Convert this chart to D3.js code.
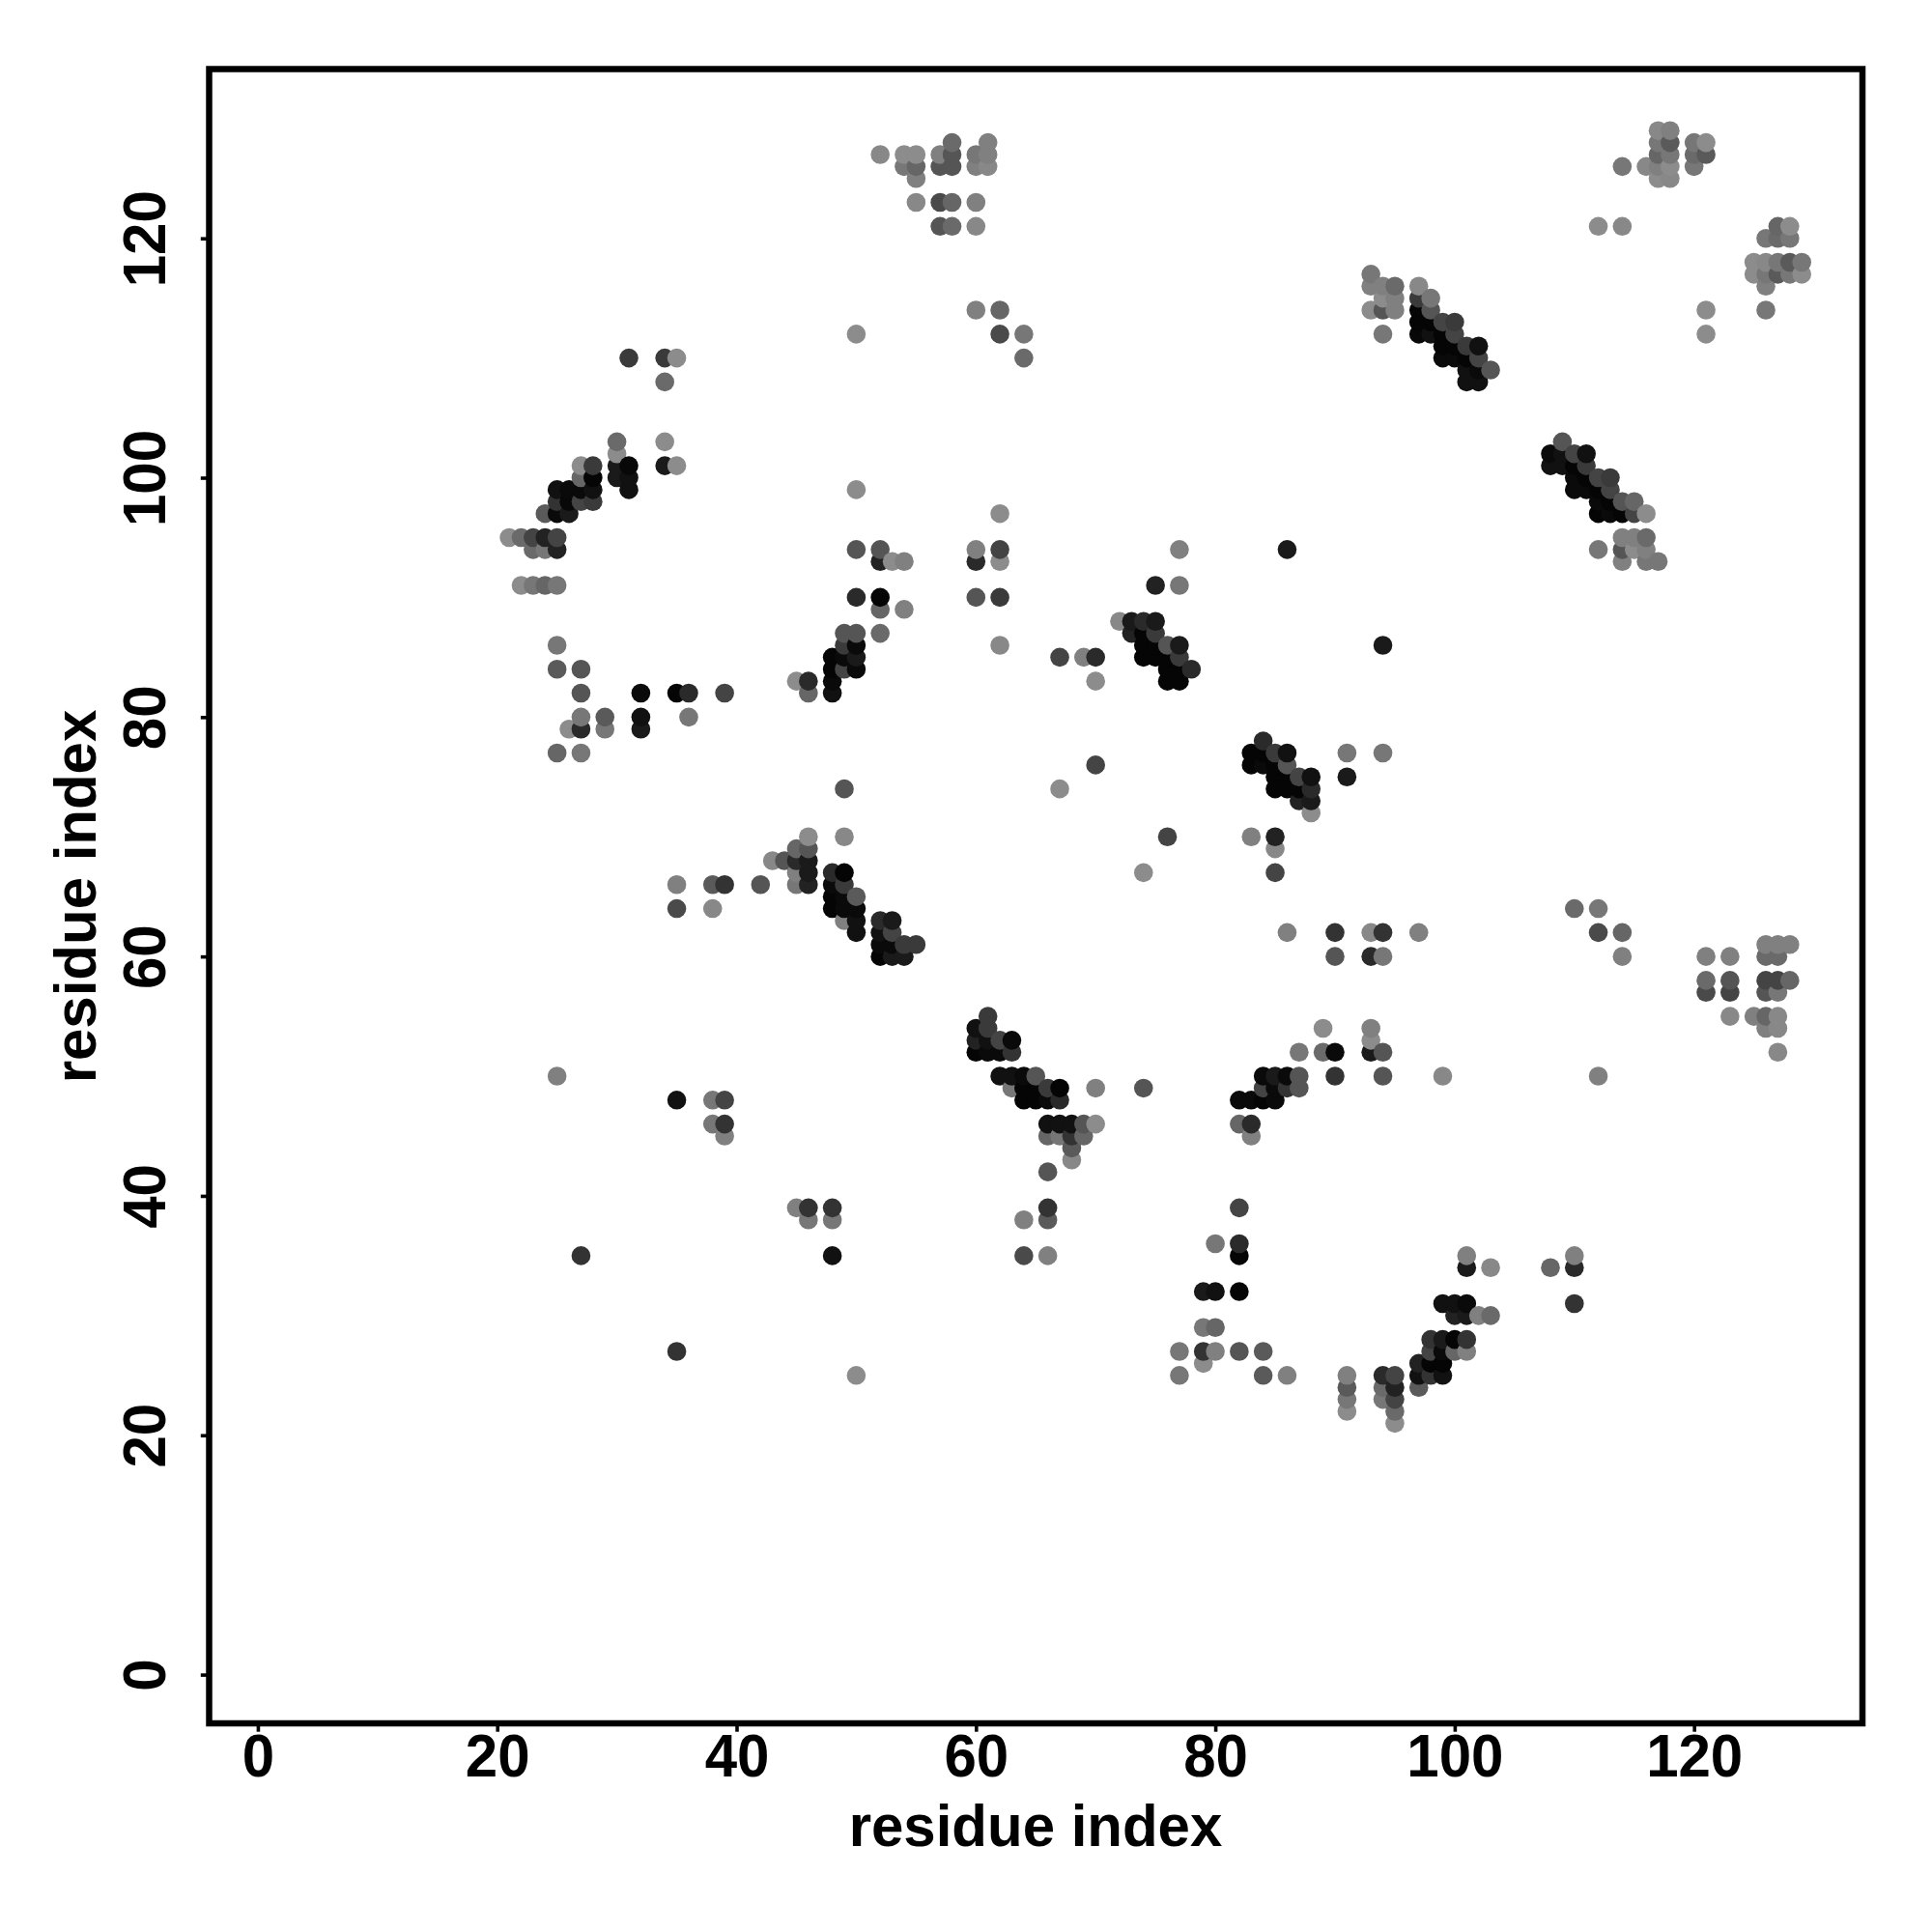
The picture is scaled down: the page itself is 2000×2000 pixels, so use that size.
<!DOCTYPE html>
<html><head><meta charset="utf-8">
<script src="https://cdn.jsdelivr.net/npm/d3@7"></script>
<style>html,body{margin:0;padding:0;background:#fff}svg{display:block}</style>
</head><body><div id="chart"></div>
<script>
// Each entry: [residue i, residue j, gray level]
const lowLeftCluster = [
[31,110,58],[34,110,58],[35,110,140],[34,108,106],[30,103,106],[30,102,140],[34,103,140],
[27,101,140],[28,101,58],[30,101,26],[31,101,8],[34,101,26],[35,101,140],
[27,100,102],[28,100,5],[30,100,26],[31,100,17],[25,99,17],[26,99,10],[27,99,10],[28,99,17],[31,99,17],
[25,98,51],[26,98,8],[27,98,68],[28,98,58],[24,97,90],[25,97,10],[26,97,26],
[21,95,140],[22,95,106],[23,95,68],[24,95,34],[25,95,68],[23,94,106],[24,94,119],[25,94,34],
[22,91,140],[23,91,119],[24,91,102],[25,91,119],
[25,86,119],[25,84,90],[27,84,85],[27,82,85],[32,82,10],[35,82,5],[36,82,42],[39,82,68],
[27,80,119],[29,80,90],[32,80,17],[36,80,119],[26,79,140],[27,79,42],[29,79,119],[32,79,26],[25,77,102],[27,77,119]
];
const helixCluster = [
[50,112,140],[50,99,140],[50,94,85],[50,90,42],[49,87,85],[50,87,85],[49,86,58],[50,86,10],
[48,85,5],[49,85,10],[50,85,26],[48,84,5],[49,84,68],[50,84,10],[45,83,140],[46,83,42],[48,83,10],[46,82,102],[48,82,17],
[49,74,85],[52,94,85],[52,93,34],[53,93,140],[54,93,128],[60,94,128],[62,94,68],[60,93,42],[62,93,140],[62,97,140],
[52,90,5],[52,89,102],[54,89,128],[60,90,85],[62,90,58],[52,87,106],[62,86,136]
];
const topCluster = [
[52,127,136],[54,127,140],[55,127,140],[54,126,119],[55,126,102],[55,125,128],[57,127,128],[58,128,106],[58,127,85],
[57,126,85],[58,126,85],[60,127,119],[61,128,128],[61,127,128],[60,126,128],[61,126,136],
[55,123,136],[57,123,74],[58,123,102],[60,123,128],[57,121,85],[58,121,106],[60,121,136],
[60,114,128],[62,114,102],[62,112,74],[64,112,119],[64,110,106]
];
const strandA = [
[93,117,119],[93,116,128],[94,116,128],[95,116,106],[94,115,140],[95,115,128],[93,114,140],[94,114,85],[95,114,128],[94,112,119],
[97,116,136],[97,115,58],[98,115,119],[97,114,5],[98,114,85],[97,113,5],[98,113,5],[99,113,68],[100,113,58],
[97,112,8],[98,112,17],[99,112,5],[100,112,68],[99,111,5],[100,111,5],[101,111,58],[102,111,17],
[99,110,10],[100,110,10],[101,110,5],[102,110,68],[101,109,17],[102,109,10],[103,109,85],[101,108,17],[102,108,17]
];
const farTopCluster = [
[117,129,136],[118,129,128],[117,128,119],[118,128,90],[117,127,102],[118,127,119],[114,126,119],[116,126,136],[117,126,128],[118,126,140],
[117,125,140],[118,125,136],[120,128,119],[121,128,140],[120,127,106],[121,127,90],[120,126,119],[112,121,140],[114,121,136],
[127,121,102],[128,121,140],[126,120,119],[127,120,106],[128,120,119],
[125,118,140],[126,118,136],[127,118,119],[128,118,90],[129,118,119],[125,117,140],[126,117,119],[127,117,90],[128,117,119],[129,117,140],
[126,116,128],[126,114,119],[121,114,140],[121,112,140]
];
const strandB = [
[109,103,85],[108,102,10],[109,102,17],[110,102,68],[111,102,17],[108,101,17],[109,101,17],[110,101,5],[111,101,58],
[110,100,10],[111,100,5],[112,100,68],[113,100,58],[110,99,10],[111,99,10],[112,99,5],[113,99,68],
[112,98,10],[113,98,5],[114,98,85],[115,98,102],[112,97,5],[113,97,10],[114,97,5],[115,97,68],[116,97,140],
[114,95,128],[115,95,128],[116,95,106],[112,94,119],[114,94,85],[115,94,140],[116,94,128],[114,93,128],[116,93,119],[117,93,119]
];
const centerCluster = [
[77,94,128],[75,91,34],[77,91,119],[67,85,68],[69,85,128],[70,85,42],[70,83,140],[70,76,68],
[72,88,136],[73,88,26],[74,88,42],[75,88,26],[73,87,34],[74,87,5],[75,87,58],[74,86,5],[75,86,5],[76,86,85],[77,86,26],
[74,85,5],[75,85,5],[76,85,5],[77,85,58],[76,84,5],[77,84,5],[78,84,42],[76,83,5],[77,83,5],
[86,94,26],[94,86,26],[67,74,140],[84,78,42],[83,77,5],[84,77,5],[85,77,58],[86,77,17],
[83,76,5],[84,76,10],[85,76,5],[86,76,85],[85,75,5],[86,75,5],[87,75,68],[88,75,17],[85,74,5],[86,74,5],[87,74,5],[88,74,42],
[87,73,34],[88,73,26],[88,72,140],[91,77,119],[94,77,119],[91,75,26],[76,70,68],[83,70,128],[85,70,34],[85,69,136],[85,67,68],[74,67,140]
];
const midLeftCluster = [
[49,70,136],[46,70,140],[45,69,102],[46,69,85],[43,68,136],[44,68,85],[45,68,42],[46,68,26],[45,67,128],[46,67,26],[45,66,119],[46,66,34],
[48,67,42],[49,67,5],[48,66,10],[49,66,58],[48,65,5],[49,65,10],[50,65,90],[48,64,5],[49,64,10],[50,64,10],[49,63,128],[50,63,17],[50,62,17],
[52,63,42],[53,63,26],[52,62,17],[53,62,68],[52,61,10],[53,61,10],[54,61,58],[55,61,58],[52,60,5],[53,60,26],[54,60,26],
[35,66,128],[38,66,90],[39,66,51],[42,66,85],[35,64,74],[38,64,136]
];
const midCluster = [
[61,55,58],[60,54,17],[61,54,58],[60,53,34],[61,53,17],[62,53,68],[63,53,10],[60,52,5],[61,52,10],[62,52,10],[63,52,51],
[62,50,17],[63,50,17],[64,50,10],[65,50,85],[63,49,119],[64,49,5],[65,49,5],[66,49,58],[67,49,5],[64,48,5],[65,48,5],[66,48,10],[67,48,42],
[70,49,128],[74,49,85],[66,46,17],[67,46,17],[68,46,17],[69,46,85],[70,46,140],[66,45,102],[67,45,119],[68,45,51],[69,45,102],
[68,44,90],[68,43,136],[66,42,85],[66,39,51],[66,38,90],[64,38,128],[64,35,74],[66,35,128]
];
const rightMidCluster = [
[89,54,140],[87,52,119],[89,52,106],[90,52,10],[90,50,51],[84,50,10],[85,50,26],[86,50,10],[87,50,85],[84,49,68],[85,49,10],[86,49,51],[87,49,85],
[82,48,10],[83,48,10],[84,48,5],[85,48,10],[82,46,102],[83,46,42],[83,45,128],[82,39,68],[80,36,119],[82,36,42],[82,35,5],[79,32,26],[80,32,17],[82,32,5],
[93,54,128],[93,53,140],[93,52,26],[94,52,85],[94,50,85],[99,50,136],[112,50,128],
[86,62,128],[90,62,51],[90,60,85],[93,62,136],[94,62,51],[93,60,42],[94,60,119],[97,62,128]
];
const bottomCluster = [
[79,29,119],[80,29,102],[77,27,119],[79,27,51],[80,27,128],[82,27,85],[84,27,90],[79,26,140],[77,25,119],[84,25,90],[86,25,128],
[91,25,128],[91,24,90],[91,23,119],[91,22,140],[94,25,42],[95,25,68],[94,24,106],[95,24,34],[94,23,119],[95,23,68],[95,22,106],[95,21,140],
[97,24,90],[97,26,34],[97,25,17],[98,26,5],[98,25,51],[99,26,5],[99,25,17],[98,28,51],[99,28,26],[100,28,5],[101,28,51],
[98,27,68],[99,27,10],[100,27,102],[101,27,128],[99,31,17],[100,31,17],[101,31,10],[100,30,34],[101,30,26],[102,30,128],[103,30,106],
[101,35,128],[101,34,26],[103,34,136],[108,34,102],[110,35,128],[110,34,42],[110,31,51]
];
const farRightCluster = [
[110,64,106],[112,64,119],[112,62,74],[114,62,102],[114,60,128],[121,60,128],[123,60,128],[121,58,106],[123,58,85],[121,57,74],[123,57,68],
[123,55,136],[125,55,128],[126,55,102],[127,55,136],[126,54,128],[127,54,136],[127,52,136],
[126,61,128],[127,61,128],[128,61,128],[126,60,106],[127,60,106],[126,58,68],[127,58,68],[128,58,102],[126,57,85],[127,57,119]
];
const isolated = [
[27,35,51],[48,35,17],[35,27,51],[50,25,140],[25,50,128],[35,48,17],[38,48,119],[39,48,68],[38,46,119],[39,46,51],[39,45,128],
[45,39,128],[46,39,51],[46,38,119],[48,39,51],[48,38,119]
];
const tickValues = [0,20,40,60,80,100,120];
const axisTitle = "residue index";

const contacts = [lowLeftCluster,helixCluster,topCluster,strandA,farTopCluster,strandB,centerCluster,midLeftCluster,midCluster,rightMidCluster,bottomCluster,farRightCluster,isolated]
  .flat().map(([i,j,g])=>({i,j,g}))
  .sort((a,b)=>d3.ascending(a.i,b.i)||d3.ascending(a.j,b.j));

const x = d3.scaleLinear().domain([-4.07,134.07]).range([216.5,1928]);
const y = d3.scaleLinear().domain([-4.07,134.14]).range([1784,71.5]);
const font = "'Liberation Sans',Arial,sans-serif";

const svg = d3.select("#chart").append("svg").attr("width",2000).attr("height",2000)
  .style("font-family",font);

svg.append("g").selectAll("circle").data(contacts).join("circle")
  .attr("cx",d=>x(d.i)).attr("cy",d=>y(d.j)).attr("r",9.8)
  .attr("fill",d=>d3.rgb(d.g,d.g,d.g));

const gx = svg.append("g").attr("transform","translate(0,1784)")
  .call(d3.axisBottom(x).tickValues(tickValues).tickSize(8.7).tickPadding(0).tickFormat(d3.format("d")));
const gy = svg.append("g").attr("transform","translate(216.5,0)")
  .call(d3.axisLeft(y).tickValues(tickValues).tickSize(8.7).tickPadding(0).tickFormat(d3.format("d")));
[gx,gy].forEach(g=>{
  g.select(".domain").remove();
  g.selectAll("line").attr("stroke","#000").attr("stroke-width",3.6);
  g.selectAll("text").attr("fill","#000").style("font-family",font).style("font-weight","bold").style("font-size","60px");
});
gx.selectAll("text").attr("y",0).attr("dy",0).attr("text-anchor","middle").attr("transform","translate(0,55) scale(1,1.06)");
gy.selectAll("text").attr("x",0).attr("dy",0).attr("text-anchor","middle").attr("transform","translate(-46,0) rotate(-90) scale(1,1.06)");

svg.append("rect").attr("x",216.5).attr("y",71.5).attr("width",1928-216.5).attr("height",1784-71.5)
  .attr("fill","none").attr("stroke","#000").attr("stroke-width",6.5);

svg.append("text").attr("transform","translate(1072,1911) scale(1,1.03)").attr("text-anchor","middle")
  .style("font-weight","bold").style("font-size","60px").attr("fill","#000").text(axisTitle);
svg.append("text").attr("transform","translate(99,928) rotate(-90) scale(1,1.03)").attr("text-anchor","middle")
  .style("font-weight","bold").style("font-size","60px").attr("fill","#000").text(axisTitle);
</script></body></html>
